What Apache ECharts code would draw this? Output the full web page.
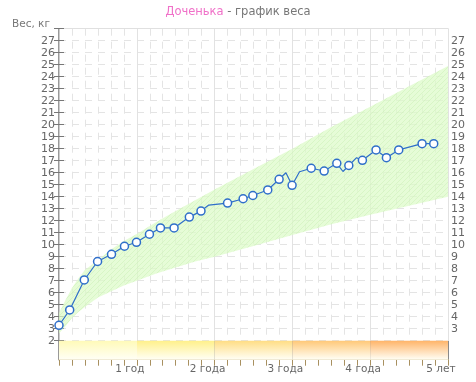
<!DOCTYPE html>
<html><head><meta charset="utf-8">
<script src="https://cdn.jsdelivr.net/npm/echarts@6/dist/echarts.min.js"></script>
<style>html,body{margin:0;padding:0;background:#fff}#c{width:476px;height:382px}</style>
</head><body><div id="c"></div>
<script>
// Measurements: age in months, weight in kg, whether a marker is drawn
var ageMonths = [0,1.65,3.9,5.95,8.1,10.1,11.95,13.95,15.65,17.75,20.1,21.9,23.1,26.0,28.4,29.9,32.2,33.95,35.0,35.95,37.1,38.9,40.9,42.85,43.8,44.7,45.9,46.8,48.9,50.5,52.4,56.0,57.8];
var weightKg = [3.28,4.56,7.06,8.6,9.2,9.87,10.2,10.87,11.4,11.4,12.3,12.8,13.3,13.47,13.83,14.1,14.56,15.45,16.0,14.95,16.08,16.37,16.14,16.78,16.1,16.6,17.25,17.03,17.9,17.25,17.9,18.42,18.42];
var marked = [1,1,1,1,1,1,1,1,1,1,1,1,0,1,1,1,1,1,0,1,0,1,1,1,0,1,0,1,1,1,1,1,1];
// Normal range band
var bandAge = [0,1,2,3,4,5,6,8,10,12,15,18,21,24,30,36,42,48,54,60];
var bandLower = [2.6,3.2,3.9,4.4,4.8,5.2,5.6,6.1,6.6,7.0,7.6,8.1,8.6,9.0,9.9,10.8,11.7,12.5,13.25,14.0];
var bandUpper = [4.3,5.4,6.4,7.2,7.9,8.3,8.7,9.6,10.3,10.9,11.9,12.8,13.7,14.6,16.3,18.0,19.8,21.5,23.2,24.9];
// Age labels on the x axis (months -> text)
var yearMonths = [12,24,36,48,60];
var yearLabels = ['1 год','2 года','3 года','4 года','5 лет'];
var yearStripTop = ['#fffab8','#fff08a','#ffdd84','#ffc878','#ffb468'];
var childName = 'Доченька';
var chartTitle = ' - график веса';
var yAxisTitle = 'Вес, кг';

var FONT = 'DejaVu Sans';
// hatch pattern
var pc = document.createElement('canvas'); pc.width = 5; pc.height = 5;
var g = pc.getContext('2d');
g.fillStyle = 'rgba(220,251,200,0.72)'; g.fillRect(0,0,5,5);
g.strokeStyle = 'rgba(204,242,182,0.5)'; g.lineWidth = 1;
g.beginPath(); g.moveTo(-1,6); g.lineTo(6,-1); g.stroke();
g.beginPath(); g.moveTo(-1,1); g.lineTo(1,-1); g.stroke();
g.beginPath(); g.moveTo(4,6); g.lineTo(6,4); g.stroke();

var weightData = ageMonths.map(function(a,i){
  return {value:[a,weightKg[i]], symbol: marked[i] ? 'circle' : 'none'};
});
var stripData = yearMonths.map(function(m,i){return [m-12, m, i];});

var dashed = {show:true, lineStyle:{color:'#e4e4e4', type:[7,6], width:1}};
var chart = echarts.init(document.getElementById('c'));
chart.setOption({
  animation:false,
  title:[{
    text:'{a|'+childName+'}{b|'+chartTitle+'}', left:'center', top:1,
    textStyle:{fontWeight:'normal', rich:{a:{color:'#f070c8', fontSize:11.5, fontFamily:FONT, fontWeight:'normal'},b:{color:'#777', fontSize:11.5, fontFamily:FONT, fontWeight:'normal'}}}
  },{
    text:yAxisTitle, left:7, top:14,
    textStyle:{color:'#777', fontSize:10.5, fontWeight:'normal', fontFamily:FONT}
  }],
  grid:[{left:59, right:28, top:28.7, bottom:41.3},
        {left:59, right:28, top:340.7, height:19}],
  xAxis:[
    {gridIndex:0, type:'value', min:0, max:60, interval:2, position:'bottom',
     axisLine:{show:false}, axisTick:{show:false}, axisLabel:{show:false}, splitLine:dashed},
    {gridIndex:1, type:'value', min:0, max:60, interval:2, position:'top',
     axisLine:{show:true, lineStyle:{color:'#c4ae78', width:1}},
     axisTick:{show:true, inside:true, length:6, lineStyle:{color:'#a89060'}},
     axisLabel:{show:false}, splitLine:{show:false}},
    {gridIndex:1, type:'value', min:0, max:60, interval:12, position:'bottom',
     axisLine:{show:false}, axisTick:{show:false},
     splitLine:{show:true, lineStyle:{color:'#8a8a8a', width:1}},
     axisLabel:{show:true, margin:4, color:'#666', fontSize:10.5, fontFamily:FONT, padding:[0,14,0,0],
       formatter:function(v){var i=yearMonths.indexOf(v); return i<0?'':yearLabels[i];}}},
    {gridIndex:0, type:'value', min:0, max:60, interval:12, position:'top',
     axisLine:{show:true, lineStyle:{color:'#e0e0e0'}}, axisTick:{show:false}, axisLabel:{show:false},
     splitLine:{show:true, lineStyle:{color:'#e2e2e2', width:1}}}
  ],
  yAxis:[
    {gridIndex:0, type:'value', min:2, max:28, interval:1, position:'left',
     axisLine:{show:true, lineStyle:{color:'#777', width:1.5}},
     axisTick:{show:true, length:5, lineStyle:{color:'#777'}},
     axisLabel:{margin:4, color:'#666', fontSize:11, fontFamily:FONT,
       formatter:function(v){return (v>=2&&v<=27)?String(v):'';}},
     splitLine:dashed},
    {gridIndex:0, type:'value', min:2, max:28, interval:1, position:'right',
     axisLine:{show:true, lineStyle:{color:'#cccccc'}},
     axisTick:{show:true, length:5, lineStyle:{color:'#777'}},
     axisLabel:{margin:3, color:'#666', fontSize:11, fontFamily:FONT,
       formatter:function(v){return (v>=3&&v<=27)?String(v):'';}},
     splitLine:{show:false}},
    {gridIndex:1, type:'value', min:0, max:1, position:'left',
     axisLine:{show:true, lineStyle:{color:'#777', width:1.5}}, axisTick:{show:false},
     axisLabel:{show:false}, splitLine:{show:false}}
  ],
  series:[
    {type:'custom', xAxisIndex:0, yAxisIndex:0, data:[[0,0]], silent:true, z:2, clip:true,
     renderItem:function(params, api){
       var pts = [];
       for (var i=0;i<bandAge.length;i++) pts.push(api.coord([bandAge[i], bandUpper[i]]));
       for (var j=bandAge.length-1;j>=0;j--) pts.push(api.coord([bandAge[j], bandLower[j]]));
       return {type:'polygon', shape:{points:pts},
         style:{fill:{image:pc, repeat:'repeat'}}};
     }},
    {type:'custom', xAxisIndex:1, yAxisIndex:2, data:stripData, silent:true, z:1,
     renderItem:function(params, api){
       var p0 = api.coord([api.value(0), 1]);
       var p1 = api.coord([api.value(1), 0]);
       var c = yearStripTop[api.value(2)];
       return {type:'rect', shape:{x:p0[0], y:p0[1], width:p1[0]-p0[0], height:p1[1]-p0[1]},
         style:{fill:new echarts.graphic.LinearGradient(0,0,0,1,[{offset:0,color:c},{offset:1,color:'#fffff6'}])}};
     }},
    {type:'line', xAxisIndex:0, yAxisIndex:0, data:weightData, z:5,
     symbol:'circle', symbolSize:8, showAllSymbol:true,
     lineStyle:{color:'#2f6fca', width:1.2},
     itemStyle:{color:'#ffffff', borderColor:'#2f6fca', borderWidth:1.5}}
  ]
});
</script></body></html>
